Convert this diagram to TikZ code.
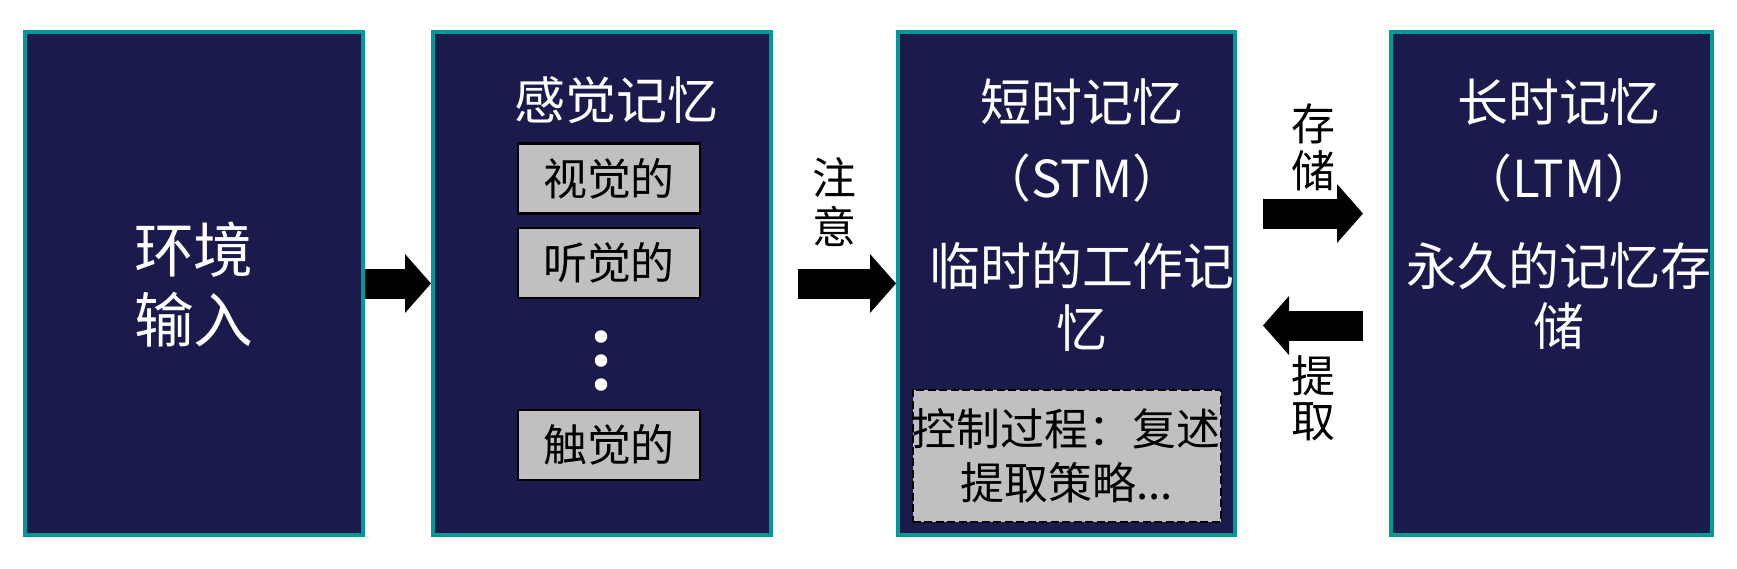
\documentclass[tikz,border=0pt]{standalone}
\usepackage{fontspec}
\setmainfont{Noto Sans CJK SC}
\usetikzlibrary{arrows.meta,positioning}
\definecolor{boxnavy}{RGB}{27,26,77}
\definecolor{boxteal}{RGB}{0,153,153}
\definecolor{cellgray}{RGB}{192,192,192}

\begin{document}
\begin{tikzpicture}[
  stage/.style={draw=boxteal, line width=0.08cm, fill=boxnavy,
                minimum width=6.76cm, minimum height=10.06cm, inner sep=0pt},
  boxtitle/.style={text=white, align=center, inner sep=0pt,
                   font=\fontsize{29}{34.9}\selectfont},
  cell/.style={draw=black, line width=0.045cm, fill=cellgray,
               minimum width=3.64cm, minimum height=1.40cm, inner sep=0pt,
               font=\fontsize{25}{28.5}\selectfont},
  ctrl/.style={draw=black, dash pattern=on 0.16cm off 0.07cm,
               line width=0.04cm, fill=cellgray, align=center,
               minimum width=6.16cm, minimum height=2.64cm, inner sep=0pt,
               font=\fontsize{25}{30.7}\selectfont},
  dotpt/.style={circle, fill=white, minimum size=0.25cm, inner sep=0pt},
  flow/.style={line width=0.6cm,
               -{Triangle[length=0.52cm, width=1.18cm, line width=0pt]}},
  flowlabel/.style={align=center, inner sep=0pt,
                    font=\fontsize{25}{27.2}\selectfont},
  node distance=1.32cm
]
% the four stages
\node[stage] (env) {};
\node[stage, right=1.32cm of env] (sensory) {};
\node[stage, minimum width=6.74cm, right=2.46cm of sensory] (stm) {};
\node[stage, minimum width=6.42cm, right=3.04cm of stm] (ltm) {};
\useasboundingbox ([shift={(-0.46,0.60)}]env.north west) rectangle ([shift={(0.46,-0.62)}]ltm.south east);

% environment input
\node[boxtitle, font=\fontsize{34}{39.8}\selectfont] (envtext) at ([yshift=-0.03cm]env.center) {环境\\输入};

% sensory memory
\node[boxtitle] (senstitle) at ([shift={(0.29,3.66)}]sensory.center) {感觉记忆};
\node[cell] (visual) at ([shift={(0.14,2.10)}]sensory.center) {视觉的};
\node[cell] (audio)  at ([shift={(0.14,0.41)}]sensory.center) {听觉的};
\node[cell] (touch)  at ([shift={(0.14,-3.23)}]sensory.center) {触觉的};
\foreach \k/\dy in {0/-1.06, 1/-1.54, 2/-2.02}
  \node[dotpt] (dot\k) at ([shift={(-0.02,\dy)}]sensory.center) {};

% short-term memory
\node[boxtitle] (stmtitle) at ([shift={(0.31,3.63)}]stm.center) {短时记忆};
\node[boxtitle] (stmabbr)  at ([shift={(0.31,2.11)}]stm.center) {（STM）};
\node[boxtitle] (stmdesc)  at ([shift={(0.31,-0.27)}]stm.center) {临时的工作记\\忆};
\node[ctrl] (control) at ([shift={(0,-3.44)}]stm.center) {控制过程：复述\\提取策略...};

% long-term memory
\node[boxtitle] (ltmtitle) at ([shift={(0.15,3.63)}]ltm.center) {长时记忆};
\node[boxtitle] (ltmabbr)  at ([shift={(0.15,2.11)}]ltm.center) {（LTM）};
\node[boxtitle, font=\fontsize{29}{34}\selectfont] (ltmdesc)
  at ([shift={(0.15,-0.25)}]ltm.center) {永久的记忆存\\储};

% flows
\draw[flow] (env) -- (sensory);
\draw[flow, shorten <=0.5cm] (sensory) -- node[flowlabel, font=\fontsize{25}{27.7}\selectfont, yshift=1.63cm] (attend) {注\\意} (stm);
\draw[flow, shorten <=0.52cm, shorten >=0.52cm] ([yshift=1.40cm]stm.east)
  -- node[flowlabel, font=\fontsize{25}{26.7}\selectfont, yshift=1.33cm] (store) {存\\储} ([yshift=1.40cm]ltm.west);
\draw[flow, shorten <=0.52cm, shorten >=0.52cm] ([yshift=-0.84cm]ltm.west)
  -- node[flowlabel, font=\fontsize{25}{25.6}\selectfont, yshift=-1.46cm] (fetch) {提\\取} ([yshift=-0.84cm]stm.east);
\end{tikzpicture}
\end{document}
